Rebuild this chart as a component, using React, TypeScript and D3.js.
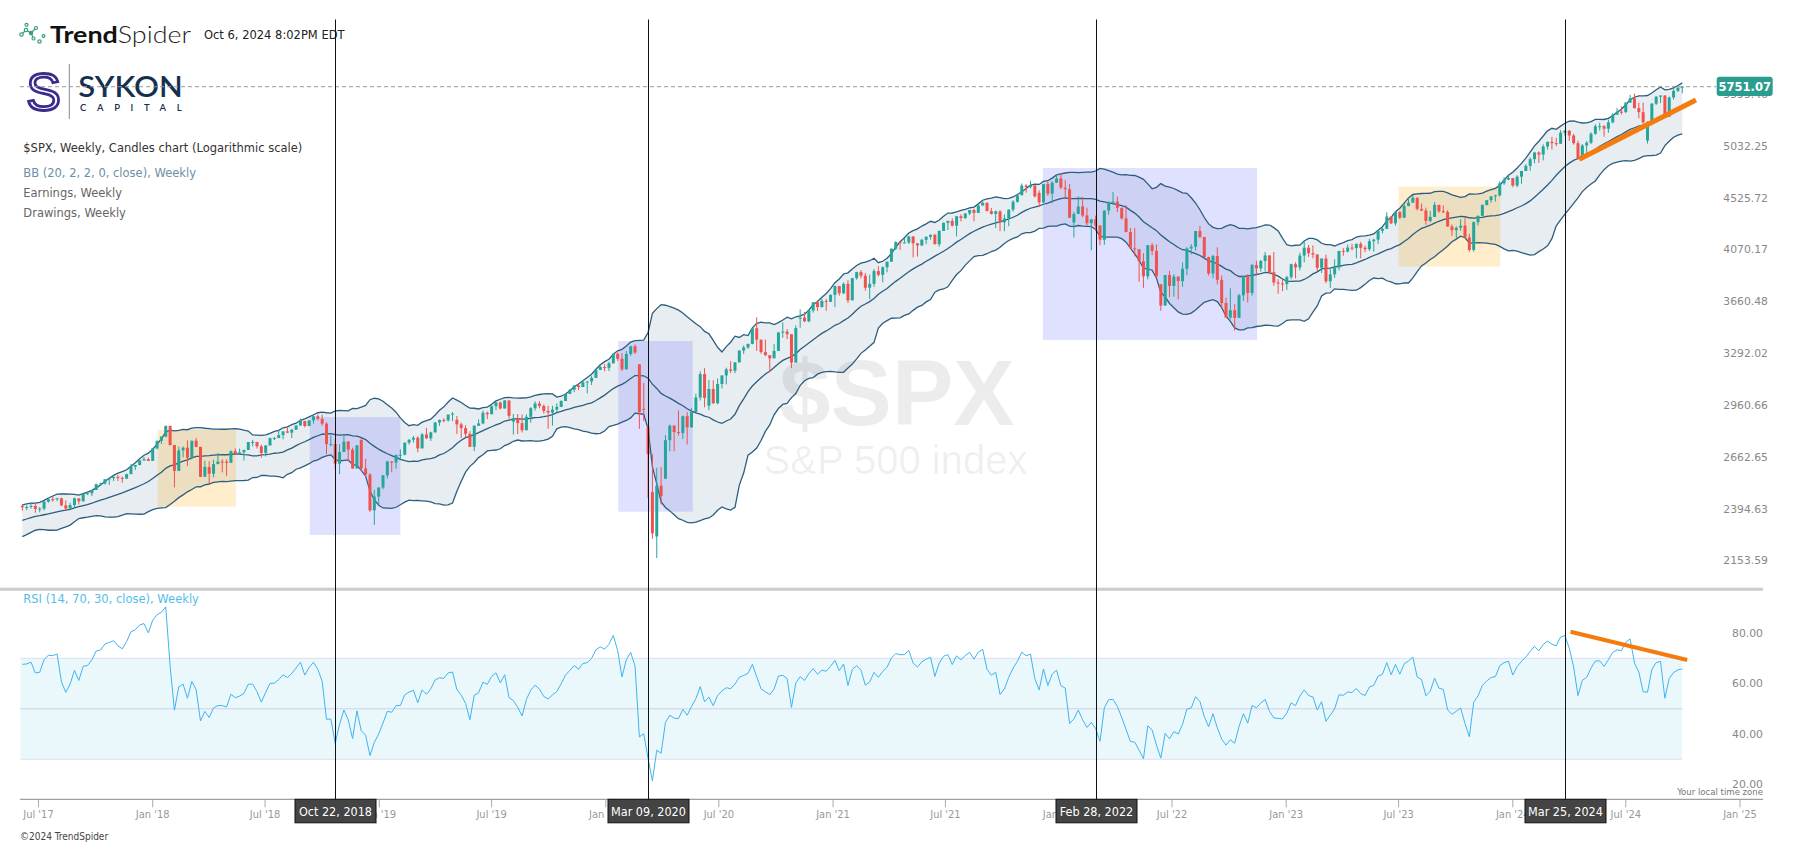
import React from "react";
import * as d3 from "d3";

// ---------- DATA ----------
// weekly closes before the first visible candle (used for BB / RSI warm-up only)
const warmupCloses = [
  2179.98, 2127.81, 2139.16, 2164.69, 2168.27, 2153.74, 2132.98, 2141.16, 2126.41, 2085.18,
  2164.45, 2181.9, 2213.35, 2191.95, 2259.53, 2258.07, 2263.79, 2238.83,
  2276.98, 2274.64, 2271.31, 2294.69, 2297.42, 2316.1, 2351.16, 2367.34, 2383.12, 2372.6,
  2378.25, 2343.98, 2362.72, 2355.54, 2328.95, 2348.69, 2384.2, 2399.29, 2390.9, 2381.73,
  2415.82, 2439.07,
];

const firstWeek = "2017-06-05";

const closes = [
  // 2017
  2431.77, 2433.15, 2438.3, 2423.41, 2425.18, 2459.27, 2472.54, 2472.1, 2476.83, 2441.32, 2425.55, 2443.05, 2476.55, 2461.43, 2500.23, 2502.22, 2519.36, 2549.33, 2553.17, 2575.21, 2581.07, 2587.84, 2582.3, 2578.85, 2602.42, 2642.22, 2651.5, 2675.81, 2683.34, 2673.61,
  // 2018
  2743.15, 2786.24, 2810.3, 2872.87, 2762.13, 2619.55, 2732.22, 2747.3, 2691.25, 2786.57, 2752.01, 2588.26, 2640.87, 2604.47, 2656.3, 2670.14, 2669.91, 2663.42, 2727.72, 2712.97, 2721.33, 2734.62, 2779.03, 2779.42, 2754.88, 2718.37, 2759.82, 2801.31, 2801.83, 2818.82, 2840.35, 2833.28, 2850.13, 2874.69, 2901.52, 2871.68, 2904.98, 2929.67, 2913.98, 2885.57, 2767.13, 2767.78, 2658.69, 2723.06, 2781.01, 2736.27, 2632.56, 2760.17, 2633.08, 2599.95, 2416.62, 2485.74,
  // 2019
  2531.94, 2596.26, 2670.71, 2664.76, 2706.53, 2707.88, 2775.6, 2792.67, 2803.69, 2743.07, 2822.48, 2800.71, 2834.4, 2892.74, 2907.41, 2905.03, 2939.88, 2945.64, 2881.4, 2859.53, 2826.06, 2752.06, 2873.34, 2886.98, 2950.46, 2941.76, 2990.41, 3013.77, 2976.61, 3025.86, 2932.05, 2918.65, 2888.68, 2847.11, 2926.46, 2978.71, 3007.39, 2992.07, 2961.79, 2952.01, 2970.27, 2986.2, 3022.55, 3066.91, 3093.08, 3120.46, 3110.29, 3140.98, 3145.91, 3168.8, 3221.22, 3240.02,
  // 2020
  3234.85, 3265.35, 3329.62, 3295.47, 3225.52, 3327.71, 3380.16, 3337.75, 2954.22, 2972.37, 2711.02, 2304.92, 2541.47, 2488.65, 2789.82, 2874.56, 2836.74, 2830.71, 2929.8, 2863.7, 2955.45, 3044.31, 3193.93, 3041.31, 3097.74, 3009.05, 3130.01, 3185.04, 3224.73, 3215.63, 3271.12, 3351.28, 3372.85, 3397.16, 3508.01, 3426.96, 3340.97, 3319.47, 3298.46, 3348.44, 3477.13, 3483.81, 3465.39, 3269.96, 3509.44, 3585.15, 3557.54, 3638.35, 3699.12, 3663.46, 3709.41, 3703.06, 3756.07,
  // 2021
  3824.68, 3768.25, 3841.47, 3714.24, 3886.83, 3934.83, 3906.71, 3811.15, 3841.94, 3943.34, 3913.1, 3974.54, 4019.87, 4128.8, 4185.47, 4180.17, 4181.17, 4232.6, 4173.85, 4155.86, 4204.11, 4229.89, 4247.44, 4166.45, 4280.7, 4352.34, 4369.55, 4327.16, 4411.79, 4395.26, 4436.52, 4468.0, 4441.67, 4509.37, 4535.43, 4458.58, 4432.99, 4455.48, 4357.04, 4391.34, 4471.37, 4544.9, 4605.38, 4697.53, 4682.85, 4697.96, 4594.62, 4538.43, 4712.02, 4620.64, 4725.79, 4766.18,
  // 2022
  4677.03, 4662.85, 4397.94, 4431.85, 4500.53, 4418.64, 4348.87, 4384.65, 4328.87, 4204.31, 4463.12, 4543.06, 4545.86, 4488.28, 4392.59, 4271.78, 4131.93, 4123.34, 4023.89, 3901.36, 4158.24, 4108.54, 3900.86, 3674.84, 3911.74, 3825.33, 3899.38, 3863.16, 3961.63, 4130.29, 4145.19, 4280.15, 4228.48, 4057.66, 3924.26, 4067.36, 3873.33, 3693.23, 3585.62, 3639.66, 3583.07, 3752.75, 3901.06, 3770.55, 3992.93, 3965.34, 4026.12, 4071.7, 3934.38, 3852.36, 3844.82, 3839.5,
  // 2023
  3895.08, 3999.09, 3972.61, 4070.56, 4136.48, 4090.46, 4079.09, 3970.04, 4045.64, 3861.59, 3916.64, 3970.99, 4109.31, 4105.02, 4137.64, 4133.52, 4169.48, 4136.25, 4124.08, 4191.98, 4205.45, 4282.37, 4298.86, 4409.59, 4348.33, 4450.38, 4398.95, 4505.42, 4536.34, 4582.23, 4478.03, 4464.05, 4369.71, 4405.71, 4515.77, 4457.49, 4450.32, 4320.06, 4288.05, 4308.5, 4327.78, 4224.16, 4117.37, 4358.34, 4415.24, 4514.02, 4559.34, 4594.63, 4604.37, 4719.19, 4754.63, 4769.83,
  // 2024
  4697.24, 4783.83, 4839.81, 4890.97, 4958.61, 5026.61, 5005.57, 5088.8, 5137.08, 5123.69, 5117.09, 5234.18, 5254.35, 5204.34, 5123.41, 4967.23, 5099.96, 5127.79, 5222.68, 5303.27, 5304.72, 5277.51, 5346.99, 5431.6, 5464.62, 5460.48, 5567.19, 5615.35, 5505.0, 5459.1, 5346.56, 5344.16, 5554.25, 5634.61, 5648.4, 5408.42, 5626.02, 5702.55, 5738.17, 5751.07,
];

const highs = [
  2446, 2441, 2453, 2450, 2433, 2463, 2477, 2484, 2478, 2480, 2466, 2454, 2480, 2476, 2500, 2509, 2520, 2552, 2557, 2575, 2582, 2589, 2597, 2590, 2605, 2657, 2651, 2679, 2695, 2692,
  2747, 2787, 2810, 2873, 2870, 2763, 2754, 2754, 2789, 2787, 2802, 2752, 2675, 2672, 2680, 2718, 2683, 2682, 2732, 2743, 2742, 2735, 2779, 2791, 2776, 2764, 2762, 2804, 2808, 2848, 2841, 2863, 2855, 2876, 2916, 2901, 2906, 2941, 2940, 2940, 2894, 2816, 2797, 2767, 2815, 2786, 2747, 2760, 2800, 2685, 2608, 2520,
  2533, 2598, 2675, 2672, 2708, 2738, 2776, 2795, 2814, 2812, 2831, 2860, 2838, 2894, 2910, 2918, 2940, 2955, 2931, 2892, 2876, 2841, 2876, 2911, 2964, 2958, 2996, 3017, 3018, 3028, 3027, 2943, 2943, 2939, 2941, 2985, 3021, 3022, 3002, 2993, 2993, 3008, 3027, 3067, 3097, 3121, 3127, 3154, 3144, 3182, 3226, 3248,
  3259, 3276, 3330, 3338, 3333, 3348, 3385, 3394, 3260, 3137, 2883, 2711, 2637, 2641, 2819, 2880, 2870, 2965, 2934, 2954, 2981, 3068, 3211, 3233, 3156, 3154, 3165, 3185, 3236, 3280, 3272, 3352, 3387, 3399, 3509, 3588, 3425, 3428, 3320, 3398, 3482, 3550, 3502, 3465, 3529, 3646, 3628, 3645, 3699, 3712, 3726, 3724, 3760,
  3827, 3823, 3853, 3870, 3889, 3938, 3951, 3929, 3915, 3960, 3983, 3981, 4020, 4129, 4191, 4194, 4218, 4238, 4237, 4175, 4213, 4234, 4250, 4255, 4286, 4355, 4372, 4393, 4415, 4429, 4441, 4469, 4480, 4513, 4546, 4536, 4487, 4465, 4466, 4429, 4475, 4560, 4608, 4718, 4712, 4744, 4705, 4652, 4713, 4732, 4740, 4808,
  4819, 4749, 4713, 4453, 4596, 4590, 4490, 4386, 4417, 4327, 4466, 4546, 4637, 4593, 4471, 4513, 4308, 4308, 4082, 4091, 4158, 4177, 4165, 3838, 3913, 3945, 3919, 3880, 4013, 4141, 4167, 4281, 4325, 4203, 4062, 4077, 4140, 3907, 3733, 3807, 3685, 3763, 3906, 3919, 4002, 4028, 4034, 4101, 4052, 4101, 3878, 3878,
  3906, 4003, 4015, 4095, 4195, 4160, 4156, 4082, 4048, 4079, 3964, 4039, 4110, 4133, 4164, 4170, 4170, 4187, 4154, 4212, 4213, 4290, 4322, 4448, 4401, 4458, 4456, 4528, 4578, 4607, 4584, 4527, 4490, 4458, 4541, 4515, 4511, 4467, 4338, 4321, 4385, 4394, 4256, 4366, 4418, 4521, 4560, 4596, 4610, 4739, 4779, 4793,
  4754, 4798, 4842, 4907, 4975, 5030, 5038, 5111, 5140, 5190, 5179, 5262, 5265, 5264, 5222, 5150, 5114, 5146, 5240, 5325, 5342, 5315, 5376, 5447, 5506, 5524, 5570, 5656, 5670, 5566, 5566, 5358, 5563, 5643, 5651, 5651, 5636, 5734, 5767, 5757,
];

const lows = [
  2415, 2418, 2425, 2405, 2407, 2416, 2455, 2459, 2462, 2437, 2417, 2417, 2428, 2446, 2462, 2495, 2488, 2520, 2543, 2547, 2545, 2566, 2566, 2557, 2576, 2602, 2624, 2650, 2676, 2673,
  2682, 2737, 2768, 2806, 2759, 2533, 2622, 2693, 2647, 2682, 2750, 2586, 2594, 2553, 2586, 2660, 2612, 2594, 2664, 2707, 2707, 2676, 2736, 2755, 2742, 2691, 2698, 2769, 2790, 2808, 2795, 2830, 2802, 2853, 2876, 2864, 2874, 2886, 2904, 2874, 2710, 2755, 2628, 2603, 2722, 2670, 2631, 2649, 2621, 2583, 2409, 2346,
  2443, 2524, 2580, 2613, 2631, 2682, 2704, 2764, 2776, 2722, 2743, 2796, 2785, 2848, 2873, 2893, 2898, 2900, 2825, 2801, 2805, 2750, 2728, 2874, 2882, 2913, 2953, 2967, 2970, 2977, 2914, 2822, 2825, 2834, 2853, 2891, 2964, 2978, 2946, 2856, 2874, 2952, 2991, 3023, 3066, 3078, 3091, 3114, 3070, 3123, 3169, 3220,
  3212, 3214, 3263, 3281, 3214, 3223, 3315, 3328, 2855, 2901, 2478, 2280, 2192, 2446, 2576, 2727, 2727, 2816, 2797, 2766, 2934, 2969, 3026, 2984, 2966, 3004, 3002, 3101, 3128, 3201, 3200, 3284, 3329, 3363, 3395, 3349, 3329, 3314, 3209, 3324, 3354, 3441, 3431, 3234, 3280, 3511, 3552, 3552, 3622, 3634, 3660, 3636, 3701,
  3663, 3750, 3762, 3694, 3725, 3874, 3884, 3789, 3723, 3818, 3901, 3853, 3934, 4020, 4118, 4118, 4175, 4168, 4056, 4062, 4150, 4167, 4206, 4164, 4145, 4281, 4289, 4320, 4233, 4365, 4387, 4421, 4367, 4450, 4509, 4457, 4427, 4306, 4279, 4279, 4323, 4453, 4535, 4605, 4630, 4671, 4585, 4495, 4533, 4600, 4531, 4722,
  4662, 4582, 4395, 4223, 4435, 4403, 4328, 4115, 4279, 4157, 4161, 4424, 4516, 4450, 4381, 4268, 4128, 4063, 3858, 3810, 3876, 4074, 3900, 3636, 3702, 3739, 3742, 3721, 3819, 3910, 4080, 4112, 4218, 4057, 3907, 3886, 3837, 3647, 3584, 3573, 3492, 3590, 3710, 3698, 3750, 3906, 3938, 3942, 3918, 3827, 3765, 3784,
  3794, 3878, 3885, 3949, 4015, 4060, 4047, 3944, 3928, 3847, 3809, 3888, 3949, 4069, 4096, 4114, 4049, 4048, 4099, 4109, 4103, 4167, 4260, 4305, 4341, 4328, 4385, 4394, 4502, 4536, 4464, 4458, 4335, 4356, 4414, 4442, 4441, 4316, 4238, 4216, 4284, 4223, 4104, 4103, 4329, 4411, 4510, 4537, 4546, 4593, 4705, 4751,
  4682, 4682, 4714, 4845, 4842, 4917, 4920, 4946, 5057, 5057, 5092, 5117, 5203, 5146, 5107, 4953, 4963, 5011, 5114, 5211, 5257, 5191, 5234, 5334, 5429, 5432, 5448, 5564, 5498, 5391, 5305, 5119, 5331, 5540, 5561, 5403, 5406, 5601, 5690, 5674,
];

// weeks whose open gapped away from the prior close
const gapOpenWeeks = ["2018-12-03", "2019-05-06", "2019-08-05", "2020-02-24", "2020-03-02", "2020-03-09", "2020-03-16", "2020-03-23", "2020-04-06", "2020-06-15", "2020-11-09", "2021-11-29", "2022-01-24", "2022-06-13", "2024-08-05"];
const gapOpenValues = [2790.5, 2908.89, 2898.07, 3257.61, 2974.28, 2863.89, 2508.59, 2290.71, 2578.28, 2993.76, 3583.04, 4628.75, 4356.32, 3838.15, 5151.14];

const priceTicks = [2153.59, 2394.63, 2662.65, 2960.66, 3292.02, 3660.48, 4070.17, 4525.72, 5032.25, 5595.46];
const rsiTicks = [20, 40, 60, 80];
const rsiLevels = [70, 50, 30];

const timeTickDates = ["2017-07-01", "2018-01-01", "2018-07-01", "2019-01-01", "2019-07-01", "2020-01-01", "2020-07-01", "2021-01-01", "2021-07-01", "2022-01-01", "2022-07-01", "2023-01-01", "2023-07-01", "2024-01-01", "2024-07-01", "2025-01-01"];
const timeTickLabels = ["Jul '17", "Jan '18", "Jul '18", "Jan '19", "Jul '19", "Jan '20", "Jul '20", "Jan '21", "Jul '21", "Jan '22", "Jul '22", "Jan '23", "Jul '23", "Jan '24", "Jul '24", "Jan '25"];

const eventDates = ["2018-10-22", "2020-03-09", "2022-02-28", "2024-03-25"];
const eventLabels = ["Oct 22, 2018", "Mar 09, 2020", "Feb 28, 2022", "Mar 25, 2024"];

const boxStart = ["2018-01-09", "2018-09-11", "2020-01-21", "2021-12-05", "2023-07-01"];
const boxEnd = ["2018-05-15", "2019-02-04", "2020-05-20", "2022-11-15", "2023-12-12"];
const boxHigh = [2849, 2925, 3417, 4870, 4689];
const boxLow = [2435, 2298, 2410, 3424, 3980];
const boxKind = ["orange", "blue", "blue", "blue", "orange"];

const priceTrendDates = ["2024-04-17", "2024-10-22"];
const priceTrendValues = [4957, 5596];
const rsiTrendDates = ["2024-04-03", "2024-10-08"];
const rsiTrendValues = [80.5, 69.3];

// ---------- HELPERS ----------
const parse = (s: string) => {
  const [yy, mm, dd] = s.split("-").map(Number);
  return new Date(yy, mm - 1, dd);
};

const UP = "#26a69a";
const DOWN = "#ef5350";
const BAND = "#2d5e7e";
const AXISFONT = "'DejaVu Sans Condensed', 'Liberation Sans Narrow', 'Roboto Condensed', 'DejaVu Sans', sans-serif";
const FONT = "'DejaVu Sans', Verdana, sans-serif";

export default function App() {
  const W = 1794;
  const H = 846;
  const start = parse(firstWeek);
  const dates = closes.map((_, i) => d3.timeDay.offset(start, 7 * i));

  const x = d3.scaleTime().domain([new Date(2018, 0, 1), new Date(2025, 0, 1)]).range([152.7, 1740]);
  const y = d3.scaleLog().domain([2100, 6000]).range([578.94, 66.0]);
  const yR = d3.scaleLinear().domain([20, 80]).range([784.55, 633.05]);

  const all = warmupCloses.concat(closes);
  const off = warmupCloses.length;

  const opens = closes.map((_, i) => all[off + i - 1]);
  gapOpenWeeks.forEach((s, k) => {
    const idx = Math.round((parse(s).getTime() - start.getTime()) / (7 * 864e5));
    if (idx >= 0 && idx < opens.length) opens[idx] = gapOpenValues[k];
  });

  // Bollinger Bands (20, 2)
  const bb = closes.map((_, i) => {
    const j = off + i;
    const win = all.slice(j - 19, j + 1);
    const m = d3.mean(win) as number;
    const sd = Math.sqrt(d3.mean(win, (v) => (v - m) * (v - m)) as number);
    return { m, u: m + 2 * sd, l: m - 2 * sd };
  });

  // RSI 14 (Wilder)
  const rsiAll: number[] = [];
  let ag = 0;
  let al = 0;
  for (let j = 1; j < all.length; j++) {
    const ch = all[j] - all[j - 1];
    const g = Math.max(ch, 0);
    const l = Math.max(-ch, 0);
    if (j <= 14) {
      ag += g / 14;
      al += l / 14;
      if (j === 14) rsiAll[j] = 100 - 100 / (1 + ag / al);
    } else {
      ag = (ag * 13 + g) / 14;
      al = (al * 13 + l) / 14;
      rsiAll[j] = al === 0 ? 100 : 100 - 100 / (1 + ag / al);
    }
  }
  const rsi = closes.map((_, i) => rsiAll[off + i]);

  const xi = (i: number) => x(dates[i]);
  const bandArea = d3.area<number>().x((_, i) => xi(i)).y0((_, i) => y(bb[i].l)).y1((_, i) => y(bb[i].u));
  const upperLine = d3.line<number>().x((_, i) => xi(i)).y((_, i) => y(bb[i].u));
  const lowerLine = d3.line<number>().x((_, i) => xi(i)).y((_, i) => y(bb[i].l));
  const midLine = d3.line<number>().x((_, i) => xi(i)).y((_, i) => y(bb[i].m));
  const rsiLine = d3.line<number>().x((_, i) => xi(i)).y((d) => yR(d));
  const idxs = closes.map((_, i) => i);

  const xFirst = xi(0);
  const xLast = xi(closes.length - 1);
  const last = closes[closes.length - 1];
  const yLast = y(last);
  const axisY = 799.3;

  return (
    <svg width={W} height={H} style={{ position: "absolute", left: 0, top: 0, background: "#fff" }}>
      <rect x={0} y={0} width={W} height={H} fill="#fff" />

      {/* Header: TrendSpider logo */}
      <g fill="none" stroke="#3d9c7f" strokeWidth={1.2}>
        <line x1={21.5} y1={34.5} x2={26} y2={30} />
        <line x1={26} y1={30} x2={31} y2={33} />
        <line x1={31} y1={33} x2={33.5} y2={38.5} />
        <line x1={31} y1={33} x2={36} y2={28} />
        <circle cx={21.5} cy={34.5} r={1.7} fill="#fff" />
        <circle cx={26} cy={30} r={1.7} fill="#fff" />
        <circle cx={26.5} cy={24.8} r={1.5} fill="#fff" />
        <circle cx={31} cy={33} r={1.7} fill="#3d9c7f" />
        <circle cx={33.5} cy={38.5} r={1.5} fill="#fff" />
        <circle cx={36} cy={28} r={1.5} fill="#fff" />
        <circle cx={39.5} cy={41.5} r={1.7} fill="#fff" />
        <circle cx={43.5} cy={36} r={1.4} fill="#fff" />
      </g>
      <text x={50} y={42.5} fontFamily="Lato, 'Open Sans', sans-serif" fontSize={23} fill="#111" textLength={141} lengthAdjust="spacingAndGlyphs">
        <tspan fontWeight={700}>Trend</tspan>
        <tspan fontWeight={300} fill="#222">Spider</tspan>
      </text>
      <text x={204} y={39.3} fontFamily={FONT} fontSize={11.5} fill="#222">Oct 6, 2024 8:02PM EDT</text>

      {/* SYKON logo */}
      <text x={43.7} y={110} textAnchor="middle" fontFamily="'Liberation Sans', Arial, sans-serif" fontSize={52} fill="none" stroke="#3a2b8c" strokeWidth={2.8}>S</text>
      <line x1={69.3} y1={64} x2={69.3} y2={119} stroke="#7d8894" strokeWidth={1} />
      <text x={78.3} y={97.3} fontFamily="Lato, 'Open Sans', sans-serif" fontSize={29} fontWeight={600} fill="#13304f" textLength={104.4} lengthAdjust="spacingAndGlyphs">SYKON</text>
      <text x={80} y={111} fontFamily="Lato, 'Open Sans', sans-serif" fontSize={9.5} fontWeight={600} fill="#13304f" textLength={101.7} lengthAdjust="spacing">CAPITAL</text>

      {/* legend texts */}
      <text x={23.3} y={151.5} fontFamily={FONT} fontSize={11.5} fill="#333">$SPX, Weekly, Candles chart (Logarithmic scale)</text>
      <text x={23.3} y={177.3} fontFamily={FONT} fontSize={11.5} fill="#6a8fa8">BB (20, 2, 2, 0, close), Weekly</text>
      <text x={23.3} y={197.3} fontFamily={FONT} fontSize={11.5} fill="#666">Earnings, Weekly</text>
      <text x={23.3} y={217.3} fontFamily={FONT} fontSize={11.5} fill="#666">Drawings, Weekly</text>

      {/* Bollinger fill */}
      <path d={bandArea(idxs) || ""} fill="#e8edf1" />

      {/* watermark */}
      <text x={897} y={425} textAnchor="middle" fontFamily="'Liberation Sans', Arial, sans-serif" fontWeight={700} fontSize={92} fill="rgba(0,0,0,0.075)">$SPX</text>
      <text x={895.5} y={473.7} textAnchor="middle" fontFamily="'Liberation Sans', Arial, sans-serif" fontSize={40} fill="rgba(0,0,0,0.065)">S&amp;P 500 index</text>

      {/* drawing boxes */}
      {boxStart.map((s, k) => {
        const x0 = x(parse(s));
        const x1 = x(parse(boxEnd[k]));
        const y0 = y(boxHigh[k]);
        const y1 = y(boxLow[k]);
        return (
          <rect key={"b" + k} x={x0} y={y0} width={x1 - x0} height={y1 - y0}
            fill={boxKind[k] === "orange" ? "rgba(255,165,0,0.2)" : "rgba(100,100,255,0.2)"} />
        );
      })}

      {/* BB lines */}
      <path d={upperLine(idxs) || ""} fill="none" stroke={BAND} strokeWidth={1.3} />
      <path d={lowerLine(idxs) || ""} fill="none" stroke={BAND} strokeWidth={1.3} />
      <path d={midLine(idxs) || ""} fill="none" stroke={BAND} strokeWidth={1.3} />

      {/* candles */}
      {closes.map((c, i) => {
        const o = opens[i];
        const up = c >= o;
        const col = up ? UP : DOWN;
        const cx = xi(i);
        const yo = y(o);
        const yc = y(c);
        const top = Math.min(yo, yc);
        const bot = Math.max(yo, yc);
        const yh = Math.min(y(highs[i]), top);
        const yl = Math.max(y(lows[i]), bot);
        return (
          <g key={"c" + i}>
            <line x1={cx} x2={cx} y1={yh} y2={yl} stroke={col} strokeWidth={1} />
            <rect x={cx - 1.5} y={top} width={3} height={Math.max(1, bot - top)} fill={col} />
          </g>
        );
      })}

      {/* price trendline */}
      <line x1={x(parse(priceTrendDates[0]))} y1={y(priceTrendValues[0])} x2={x(parse(priceTrendDates[1]))} y2={y(priceTrendValues[1])}
        stroke="#f47b0e" strokeWidth={5} />

      {/* last price dashed line */}
      <line x1={20} x2={1716} y1={yLast} y2={yLast} stroke="#9a9a9a" strokeWidth={1} strokeDasharray="4,3" />

      {/* price axis labels */}
      {priceTicks.map((t, k) => (
        <text key={"pt" + k} x={1768} y={y(t) - 6} dy="0.35em" textAnchor="end" fontFamily={FONT} fontSize={10.8} fill="#888">
          {t.toFixed(2)}
        </text>
      ))}
      <rect x={1716.7} y={yLast - 10} width={56} height={19.3} rx={3} fill="#2a9d8f" />
      <text x={1744.7} y={yLast} dy="0.36em" textAnchor="middle" fontFamily={FONT} fontSize={11.5} fontWeight={700} fill="#fff">
        {last.toFixed(2)}
      </text>

      {/* separator */}
      <line x1={0} x2={1763} y1={589.3} y2={589.3} stroke="#cccccc" strokeWidth={3} />

      {/* RSI panel */}
      <text x={23.3} y={603} fontFamily={FONT} fontSize={11.5} fill="#56bde9">RSI (14, 70, 30, close), Weekly</text>
      <rect x={xFirst - 2} y={yR(70)} width={xLast - xFirst + 2} height={yR(30) - yR(70)} fill="#ebf8fb" />
      {rsiLevels.map((v, k) => (
        <line key={"rl" + k} x1={xFirst - 2} x2={xLast} y1={yR(v)} y2={yR(v)} stroke={v === 50 ? "#cfcfe8" : "#dde0f0"} strokeWidth={1} />
      ))}
      <path d={rsiLine(rsi) || ""} fill="none" stroke="#3fb4ef" strokeWidth={1} />
      <line x1={x(parse(rsiTrendDates[0]))} y1={yR(rsiTrendValues[0])} x2={x(parse(rsiTrendDates[1]))} y2={yR(rsiTrendValues[1])}
        stroke="#f47b0e" strokeWidth={4} />
      {rsiTicks.map((t, k) => (
        <text key={"rt" + k} x={1763} y={yR(t)} dy="0.35em" textAnchor="end" fontFamily={FONT} fontSize={10.8} fill="#888">
          {t.toFixed(2)}
        </text>
      ))}
      <text x={1763} y={795} textAnchor="end" fontFamily={AXISFONT} fontSize={9.5} fill="#777">Your local time zone</text>

      {/* x axis */}
      <line x1={20} x2={1763} y1={axisY} y2={axisY} stroke="#888" strokeWidth={1} />
      {timeTickDates.map((s, k) => {
        const tx = x(parse(s));
        return (
          <g key={"xt" + k}>
            <line x1={tx} x2={tx} y1={axisY} y2={axisY + 8} stroke="#aaa" strokeWidth={1} />
            <text x={tx} y={818} textAnchor="middle" fontFamily={AXISFONT} fontSize={11} fill="#999">{timeTickLabels[k]}</text>
          </g>
        );
      })}

      {/* vertical event lines */}
      {eventDates.map((s, k) => {
        const ex = Math.round(x(parse(s))) + 0.5;
        return (
          <g key={"ev" + k}>
            <line x1={ex} x2={ex} y1={19.5} y2={axisY} stroke="#111" strokeWidth={1} />
            <rect x={ex - 40.5} y={axisY} width={81} height={23.5} fill="#444" stroke="#111" strokeWidth={1} />
            <text x={ex} y={815.5} textAnchor="middle" fontFamily={AXISFONT} fontSize={12.5} fill="#fff">{eventLabels[k]}</text>
          </g>
        );
      })}

      <text x={20} y={840} fontFamily={AXISFONT} fontSize={10} fill="#444">©2024 TrendSpider</text>
    </svg>
  );
}
